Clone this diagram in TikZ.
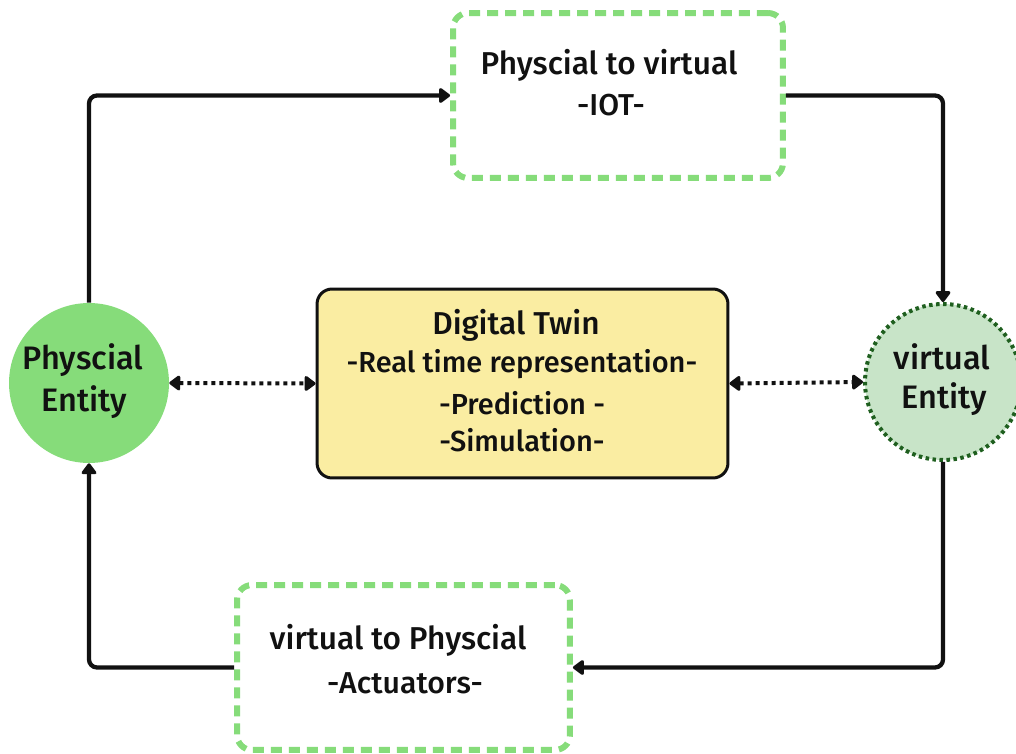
\documentclass[tikz,border=0pt]{standalone}
\usepackage{fontspec}
\setmainfont{Fira Sans}[BoldFont={Fira Sans Medium}]
\usetikzlibrary{arrows.meta}
\definecolor{dashgreen}{HTML}{86DC7A}
\definecolor{physfill}{HTML}{86DC7A}
\definecolor{virtfill}{HTML}{C8E4C8}
\definecolor{virtline}{HTML}{1F5F1F}
\definecolor{twinfill}{HTML}{FAEDA2}
\definecolor{ink}{HTML}{111111}
\begin{document}
\begin{tikzpicture}[x=0.02cm,y=-0.02cm,
  flowbox/.style={draw=dashgreen, line width=0.12cm, dash pattern=on 0.22cm off 0.14cm,
    rounded corners=0.3cm, minimum height=3.3cm, inner sep=0pt, fill=white},
  twinbox/.style={draw=ink, line width=0.06cm, fill=twinfill, rounded corners=0.3cm,
    minimum width=8.22cm, minimum height=3.78cm, inner sep=0pt},
  physcircle/.style={circle, fill=physfill, minimum size=3.2cm, inner sep=0pt},
  virtcircle/.style={circle, fill=virtfill, draw=virtline, line width=0.08cm,
    dash pattern=on 0.07cm off 0.07cm, minimum size=3.12cm, inner sep=0pt},
  lbl/.style={font=\fontsize{18}{21}\selectfont\bfseries, text=ink, inner sep=0pt},
  sublbl/.style={font=\fontsize{17.2}{21}\selectfont\bfseries, text=ink, inner sep=0pt},
  twinlbl/.style={font=\fontsize{16.5}{20}\selectfont\bfseries, text=ink, inner sep=0pt},
  entlbl/.style={font=\fontsize{18.5}{22}\selectfont\bfseries, text=ink, inner sep=0pt},
  flow/.style={draw=ink, line width=0.085cm, rounded corners=0.16cm,
    -{Triangle[round,length=0.24cm,width=0.34cm]}},
  link/.style={draw=ink, line width=0.08cm, dash pattern=on 0.08cm off 0.08cm,
    {Triangle[round,length=0.24cm,width=0.34cm]}-{Triangle[round,length=0.24cm,width=0.34cm]}}
]
\useasboundingbox (0,0) rectangle (1016,753);

% main shapes
\node[flowbox, minimum width=6.6cm] (top) at (618,95.5) {};
\node[flowbox, minimum width=6.66cm] (bot) at (403.5,667.5) {};
\node[twinbox] (twin) at (522.5,383.5) {};
\node[physcircle] (phys) at (89,383) {};
\node[virtcircle] (virt) at (943,382) {};

% labels
\node[lbl] (topA) at (609,65) {Physcial to virtual};
\node[sublbl] (topB) at (611,105) {-IOT-};
\node[lbl] (botA) at (398,640) {virtual to Physcial};
\node[sublbl] (botB) at (405,683) {-Actuators-};
\node[entlbl] (physA) at (83,360) {Physcial};
\node[entlbl] (physB) at (84,402) {Entity};
\node[entlbl] (virtA) at (942,357) {virtual};
\node[entlbl] (virtB) at (944,399) {Entity};
\node[lbl] (twinA) at (516,325) {Digital Twin};
\node[twinlbl] (twinB) at (522,364) {-Real time representation-};
\node[twinlbl] (twinC) at (522,403) {-Prediction -};
\node[twinlbl] (twinD) at (522,440) {-Simulation-};

% loop of flows
\draw[flow] (phys.north) |- (top.west);
\draw[flow] (top.east) -| (virt.north);
\draw[flow] (virt.south) |- (bot.east);
\draw[flow] (bot.west) -| (phys.south);

% exchanges with the twin
\draw[link] (phys.east) -- (twin.west);
\draw[link] (twin.east) -- (virt.west);
\end{tikzpicture}
\end{document}
